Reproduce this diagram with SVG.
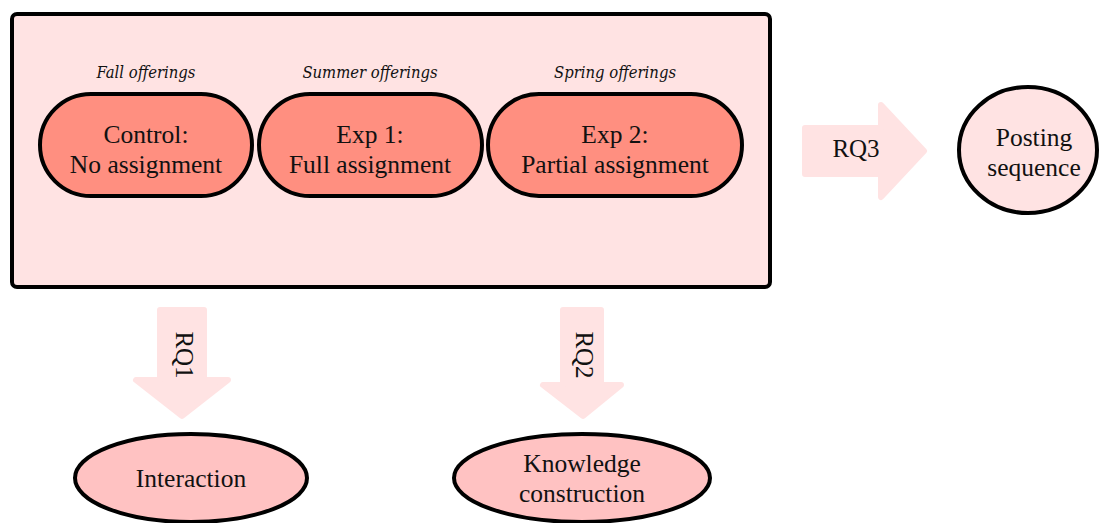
<svg xmlns="http://www.w3.org/2000/svg" width="1099" height="523" viewBox="0 0 1099 523">
<style>
.t{font-family:"Liberation Serif","Times New Roman",serif;font-size:25.5px;fill:#111;text-anchor:middle}
.i{font-family:"DejaVu Serif",serif;font-style:italic;font-stretch:condensed;font-size:16.5px;fill:#111;text-anchor:middle}
.st{fill:#ff8f80;stroke:#000;stroke-width:4}
.el{stroke:#000;stroke-width:4}
.ar{fill:#ffe3e3;stroke:#ffe3e3;stroke-width:6;stroke-linejoin:round}
.r{font-size:25px}
</style>
<rect width="1099" height="523" fill="#fff"/>
<g id="container">
<rect x="12" y="14" width="758" height="273" rx="5" fill="#ffe3e3" stroke="#000" stroke-width="4"/>
<text class="i" x="146" y="78">Fall offerings</text>
<text class="i" x="370" y="78">Summer offerings</text>
<text class="i" x="615" y="78">Spring offerings</text>
</g>
<g id="control">
<rect class="st" x="40" y="94" width="212" height="102" rx="51"/>
<text class="t" x="146" y="143">Control:</text>
<text class="t" x="146" y="173">No assignment</text>
</g>
<g id="exp1">
<rect class="st" x="259" y="94" width="223" height="102" rx="51"/>
<text class="t" x="370" y="143">Exp 1:</text>
<text class="t" x="370" y="173">Full assignment</text>
</g>
<g id="exp2">
<rect class="st" x="488" y="94" width="254" height="102" rx="51"/>
<text class="t" x="615" y="143">Exp 2:</text>
<text class="t" x="615" y="173">Partial assignment</text>
</g>
<g id="connectors">
<g id="rq3">
<polygon class="ar" points="805,128 881,128 881,105 924,151 881,197 881,174 805,174"/>
<text class="t r" x="856" y="157">RQ3</text>
</g>
<g id="rq1">
<polygon class="ar" points="160,310 204,310 204,380 228,380 182,416 136,380 160,380"/>
<text class="t r" transform="translate(176,355) rotate(90)">RQ1</text>
</g>
<g id="rq2">
<polygon class="ar" points="563,310 601,310 601,385 621,385 583,416 543,385 563,385"/>
<text class="t r" transform="translate(576,355) rotate(90)">RQ2</text>
</g>
</g>
<g id="posting">
<ellipse class="el" cx="1028" cy="150" rx="69" ry="63" fill="#ffe3e3"/>
<text class="t" x="1034" y="146">Posting</text>
<text class="t" x="1034" y="176">sequence</text>
</g>
<g id="interaction">
<ellipse class="el" cx="191" cy="478" rx="116" ry="44" fill="#ffc2c2"/>
<text class="t" x="191" y="487">Interaction</text>
</g>
<g id="knowledge">
<ellipse class="el" cx="582" cy="478" rx="128" ry="44" fill="#ffc2c2"/>
<text class="t" x="582" y="472">Knowledge</text>
<text class="t" x="582" y="502">construction</text>
</g>
</svg>
